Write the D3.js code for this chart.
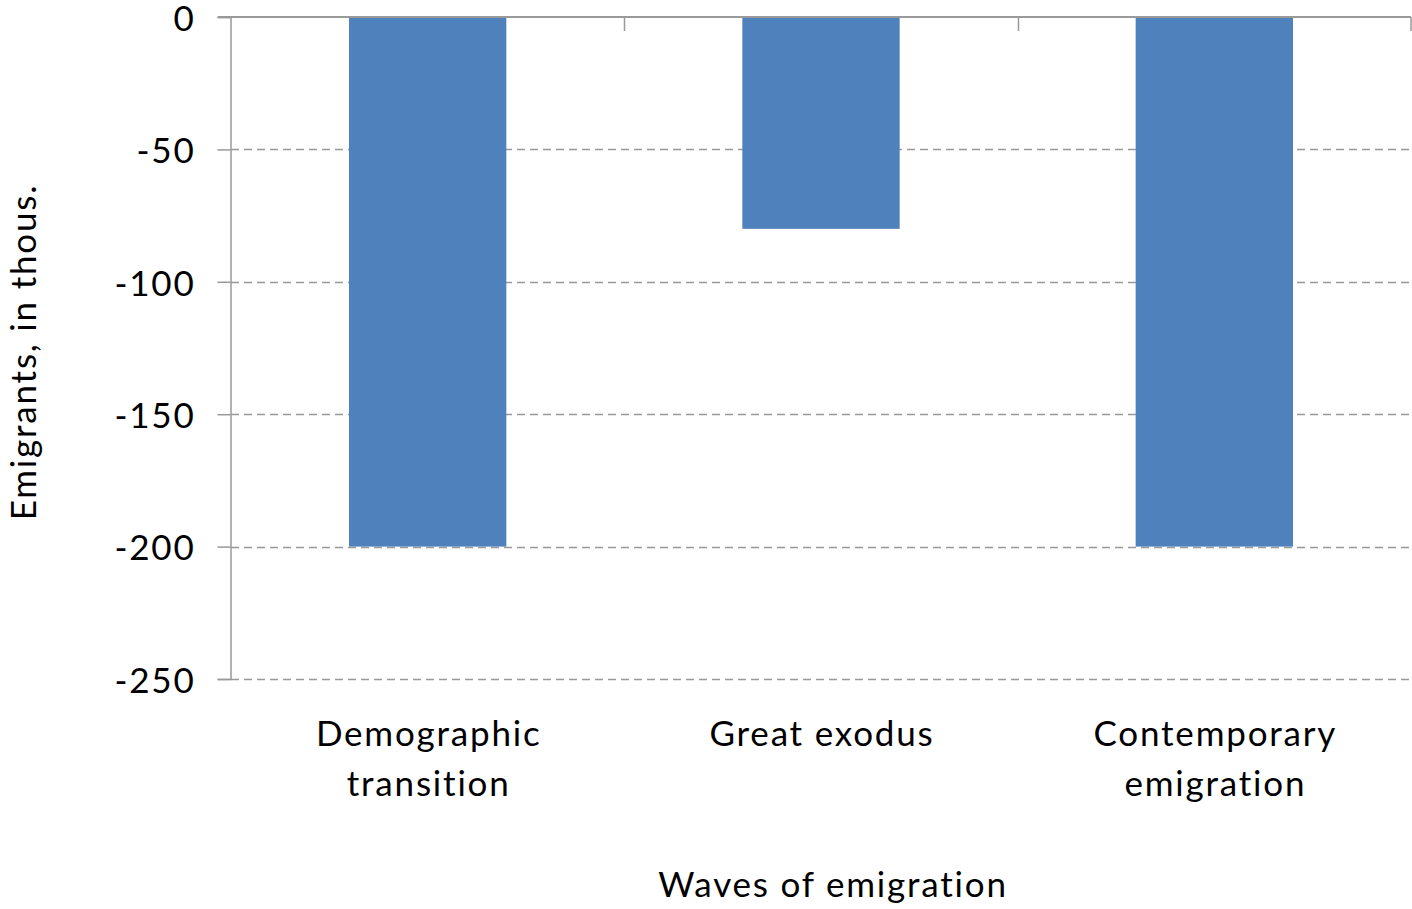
<!DOCTYPE html>
<html>
<head>
<meta charset="utf-8">
<script src="https://cdn.jsdelivr.net/npm/d3@7"></script>
<style>
  html, body { margin: 0; padding: 0; background: #fff; }
  text { font-family: Lato, "Open Sans", sans-serif; fill: #000; letter-spacing: 1.8px; }
</style>
</head>
<body>
<svg id="chart" width="1412" height="909"></svg>
<script>
(function() {
  "use strict";

  // Chart data
  var categories = [["Demographic", "transition"], ["Great exodus"], ["Contemporary", "emigration"]];
  var values = [-200, -80, -200];
  var yTicks = [0, -50, -100, -150, -200, -250];

  var margin = { top: 17, right: 1, left: 231, bottom: 230 };
  var width = 1412, height = 909;
  var FONT_SIZE = 35;

  var svg = d3.select('#chart');

  var x = d3.scaleBand()
      .domain(d3.range(categories.length))
      .range([margin.left, width - margin.right])
      .paddingInner(0.6)
      .paddingOuter(0.3);

  var y = d3.scaleLinear()
      .domain([0, -250])
      .range([margin.top, height - margin.bottom]);

  // Dashed gridlines (not at zero)
  svg.append('g')
    .selectAll('line')
    .data(yTicks.filter(function(d) { return d !== 0; }))
    .join('line')
      .attr('x1', margin.left)
      .attr('x2', width - margin.right)
      .attr('y1', function(d) { return Math.round(y(d)) + 0.5; })
      .attr('y2', function(d) { return Math.round(y(d)) + 0.5; })
      .attr('stroke', '#999')
      .attr('stroke-width', 1.5)
      .attr('stroke-dasharray', '8,5');

  // Bars hang down from zero
  svg.append('g')
    .selectAll('rect')
    .data(values)
    .join('rect')
      .attr('x', function(d, i) { return x(i); })
      .attr('y', y(0))
      .attr('width', x.bandwidth())
      .attr('height', function(d) { return y(d) - y(0); })
      .attr('fill', '#4F81BD');

  // Y axis
  var yAxis = d3.axisLeft(y)
      .tickValues(yTicks)
      .tickSize(13)
      .tickPadding(22)
      .tickFormat(d3.format('d'));

  var gy = svg.append('g')
      .attr('transform', 'translate(' + (margin.left - 0.5) + ',0)')
      .call(yAxis);
  gy.select('.domain').attr('stroke', '#999').attr('stroke-width', 1.5);
  gy.selectAll('.tick line').attr('stroke', '#999').attr('stroke-width', 1.5);
  gy.selectAll('.tick text')
      .attr('font-size', FONT_SIZE)
      .attr('font-family', 'Lato, "Open Sans", sans-serif')
      .attr('dy', '0.38em')
      .text(function(d) { return d3.format('d')(d).replace('\u2212', '-'); });

  // Category axis along zero line, tick marks between categories
  var step = x.step();
  var boundaries = d3.range(categories.length + 1).map(function(i) {
    return margin.left + i * step;
  });
  var gx = svg.append('g');
  gx.append('line')
      .attr('x1', margin.left - 13)
      .attr('x2', width - margin.right)
      .attr('y1', y(0))
      .attr('y2', y(0))
      .attr('stroke', '#999')
      .attr('stroke-width', 2);
  gx.selectAll('line.sep')
    .data(boundaries.slice(1))
    .join('line')
      .attr('class', 'sep')
      .attr('x1', function(d) { return Math.min(Math.round(d) + 0.5, width - 1); })
      .attr('x2', function(d) { return Math.min(Math.round(d) + 0.5, width - 1); })
      .attr('y1', y(0))
      .attr('y2', y(0) + 14)
      .attr('stroke', '#999')
      .attr('stroke-width', 1.5);

  // Category labels
  var labels = svg.append('g')
    .selectAll('text')
    .data(categories)
    .join('text')
      .attr('text-anchor', 'middle')
      .attr('font-size', FONT_SIZE)
      .attr('x', function(d, i) { return x(i) + x.bandwidth() / 2 + 1; })
      .attr('y', 746);
  labels.selectAll('tspan')
    .data(function(d) { return d; })
    .join('tspan')
      .attr('x', function() { return d3.select(this.parentNode).attr('x'); })
      .attr('dy', function(d, i) { return i === 0 ? 0 : 50; })
      .text(function(d) { return d; });

  // Axis titles
  svg.append('text')
      .attr('text-anchor', 'middle')
      .attr('font-size', FONT_SIZE)
      .attr('x', 833)
      .attr('y', 897)
      .text('Waves of emigration');

  svg.append('text')
      .attr('text-anchor', 'middle')
      .attr('font-size', FONT_SIZE)
      .attr('transform', 'translate(36,352) rotate(-90)')
      .text('Emigrants, in thous.');
})();
</script>
</body>
</html>
